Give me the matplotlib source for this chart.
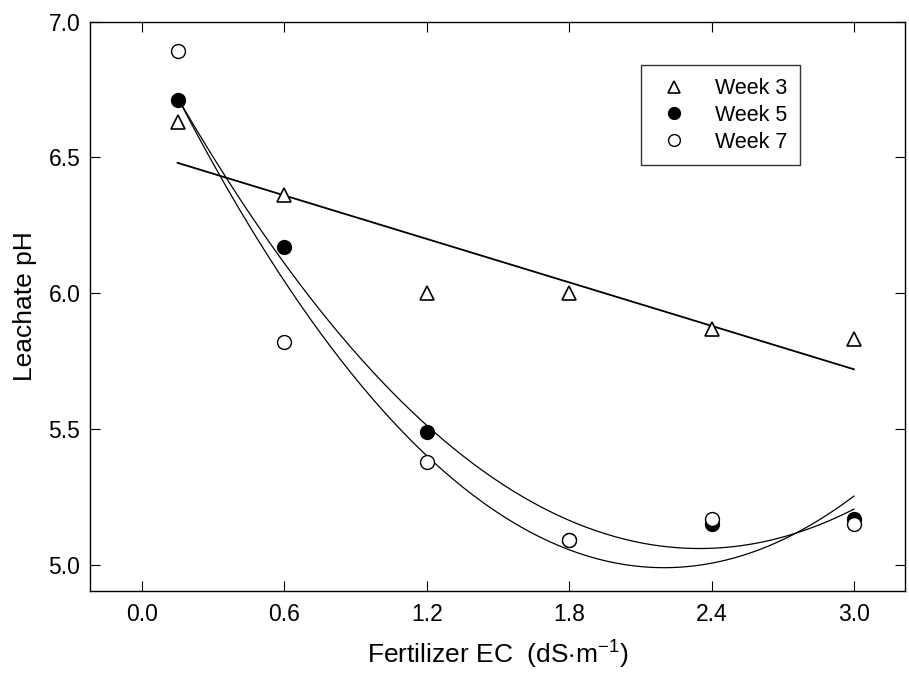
import matplotlib
matplotlib.use("Agg")
import matplotlib.pyplot as plt
import numpy as np

plt.rcParams['font.family'] = ['Liberation Sans', 'DejaVu Sans']
plt.rcParams['mathtext.fontset'] = 'custom'
plt.rcParams['mathtext.rm'] = 'Liberation Sans'

# fertilizer EC levels (dS/m)
ec = [0.15, 0.6, 1.2, 1.8, 2.4, 3.0]
week3 = [6.63, 6.36, 6.00, 6.00, 5.87, 5.83]
week5 = [6.71, 6.17, 5.49, 5.09, 5.15, 5.17]
week7 = [6.89, 5.82, 5.38, 5.09, 5.17, 5.15]

# regression lines
fit3 = [-0.2667, 6.52]              # linear
fit5 = [0.343, -1.612, 6.954]       # quadratic
fit7 = [0.412, -1.813, 6.984]       # quadratic

xticks = [0.0, 0.6, 1.2, 1.8, 2.4, 3.0]
yticks = [5.0, 5.5, 6.0, 6.5, 7.0]

fig = plt.figure(figsize=(9.09, 6.75), dpi=100)
ax = fig.add_axes([0.099, 0.125, 0.8965, 0.843])

xx = np.linspace(ec[0], ec[-1], 200)
ax.plot(xx, np.polyval(fit3, xx), color='black', lw=1.3, zorder=2)
ax.plot(xx, np.polyval(fit5, xx), color='black', lw=0.9, zorder=2)
ax.plot(xx, np.polyval(fit7, xx), color='black', lw=0.9, zorder=2)

ax.plot(ec, week3, '^', ms=10, mfc='white', mec='black', mew=1.2, label='Week 3', zorder=3)
ax.plot(ec, week5, 'o', ms=10, mfc='black', mec='black', mew=1.0, label='Week 5', zorder=3)
ax.plot(ec, week7, 'o', ms=10, mfc='white', mec='black', mew=1.0, label='Week 7', zorder=4)

ax.set_xlim(-0.219, 3.215)
ax.set_ylim(4.905, 7.0)
ax.set_xticks(xticks)
ax.set_yticks(yticks)
ax.set_xticklabels(['%.1f' % v for v in xticks])
ax.set_yticklabels(['%.1f' % v for v in yticks])
ax.tick_params(direction='in', top=True, right=True, length=7, labelsize=16.5)
ax.tick_params(axis='y', pad=7)
ax.tick_params(axis='x', pad=9)
for s in ax.spines.values():
    s.set_linewidth(1.0)

ax.set_xlabel(r'Fertilizer EC  (dS$\cdot$m$^{\mathregular{-1}}$)', fontsize=19, labelpad=8)
ax.set_ylabel('Leachate pH', fontsize=19, labelpad=8)

leg = ax.legend(loc='upper left', bbox_to_anchor=(0.676, 0.923), fontsize=15.5,
                frameon=True, fancybox=False, edgecolor='black',
                handletextpad=0.95, borderpad=0.6, labelspacing=0.26,
                handlelength=1.9, borderaxespad=0, markerscale=0.85)
leg.get_frame().set_linewidth(1.0)

fig.savefig('out.png', dpi=100)
